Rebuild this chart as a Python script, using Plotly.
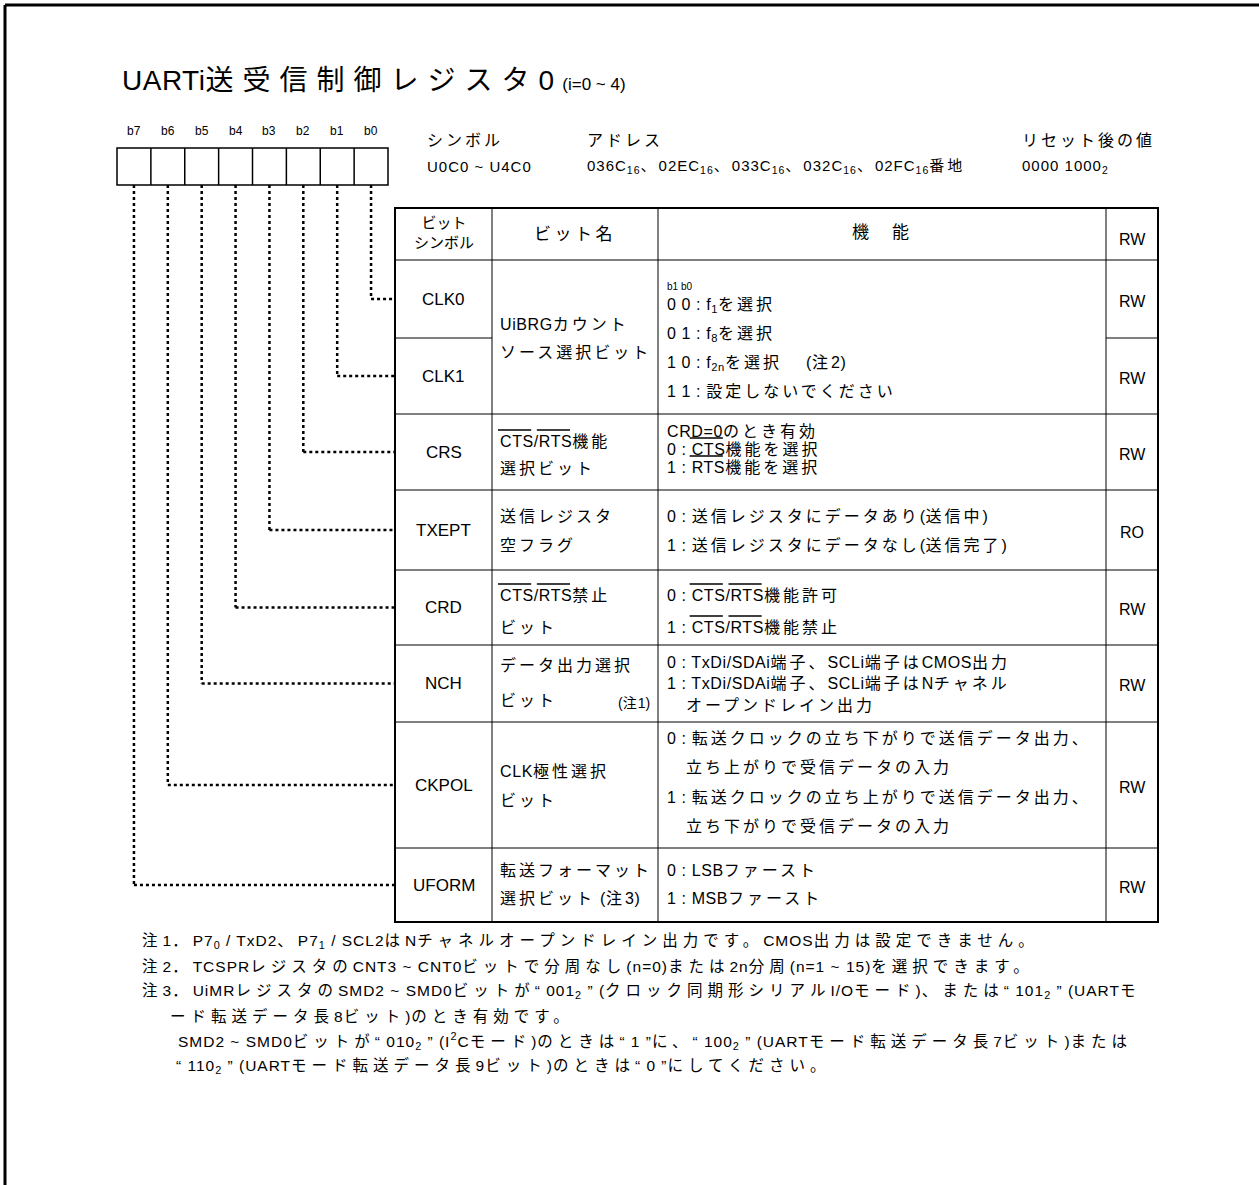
import re
import plotly.graph_objects as go

# ---------------- data ----------------
title_main = "UARTi送受信制御レジスタ0"
title_sub = "(i=0 ~ 4)"
bit_labels = ["b7", "b6", "b5", "b4", "b3", "b2", "b1", "b0"]
info_heads = ["シンボル", "アドレス", "リセット後の値"]
info_values = ["U0C0 ~ U4C0",
               "036C<sub>16</sub>、02EC<sub>16</sub>、033C<sub>16</sub>、032C<sub>16</sub>、02FC<sub>16</sub>番地",
               "0000 1000<sub>2</sub>"]
col_heads = ["ビット<br>シンボル", "ビット名", "機　能", "RW"]
symbols = ["CLK0", "CLK1", "CRS", "TXEPT", "CRD", "NCH", "CKPOL", "UFORM"]
access = ["RW", "RW", "RW", "RO", "RW", "RW", "RW", "RW"]
bit_names = [
    ["UiBRGカウント", "ソース選択ビット"],
    ["CTS/RTS機能", "選択ビット"],
    ["送信レジスタ", "空フラグ"],
    ["CTS/RTS禁止", "ビット"],
    ["データ出力選択", "ビット"],
    ["CLK極性選択", "ビット"],
    ["転送フォーマット", "選択ビット (注3)"],
]
name_notes = ["", "", "", "", "(注1)", "", ""]
functions = [
    ["0 0 : f<sub>1</sub>を選択", "0 1 : f<sub>8</sub>を選択",
     "1 0 : f<sub>2n</sub>を選択　 (注2)", "1 1 : 設定しないでください"],
    ["CRD=0のとき有効", "0 : CTS機能を選択", "1 : RTS機能を選択"],
    ["0 : 送信レジスタにデータあり(送信中)", "1 : 送信レジスタにデータなし(送信完了)"],
    ["0 : CTS/RTS機能許可", "1 : CTS/RTS機能禁止"],
    ["0 : TxDi/SDAi端子、SCLi端子はCMOS出力", "1 : TxDi/SDAi端子、SCLi端子はNチャネル",
     "　オープンドレイン出力"],
    ["0 : 転送クロックの立ち下がりで送信データ出力、", "　立ち上がりで受信データの入力",
     "1 : 転送クロックの立ち上がりで送信データ出力、", "　立ち下がりで受信データの入力"],
    ["0 : LSBファースト", "1 : MSBファースト"],
]
clk_bits_head = "b1 b0"
notes = [
    "注1．P7<sub>0</sub> / TxD2、P7<sub>1</sub> / SCL2はNチャネルオープンドレイン出力です。CMOS出力は設定できません。",
    "注2．TCSPRレジスタのCNT3 ~ CNT0ビットで分周なし(n=0)または2n分周(n=1 ~ 15)を選択できます。",
    "注3．UiMRレジスタのSMD2 ~ SMD0ビットが“ 001<sub>2</sub> ” (クロック同期形シリアルI/Oモード)、または“ 101<sub>2</sub> ” (UARTモ",
    "ード転送データ長8ビット)のとき有効です。",
    "SMD2 ~ SMD0ビットが“ 010<sub>2</sub> ” (I<sup>2</sup>Cモード)のときは“ 1 ”に、“ 100<sub>2</sub> ” (UARTモード転送データ長7ビット)または",
    "“ 110<sub>2</sub> ” (UARTモード転送データ長9ビット)のときは“ 0 ”にしてください。",
]
# overlined words: (group index, 'name' or function line index, substring, occurrence)
overlined = [
    (1, "name0", "CTS"), (1, "name0", "RTS"),
    (1, "func1", "CTS"), (1, "func2", "RTS"),
    (3, "name0", "CTS"), (3, "name0", "RTS"),
    (3, "func0", "CTS"), (3, "func0", "RTS"),
    (3, "func1", "CTS"), (3, "func1", "RTS"),
]

# ---------------- layout constants ----------------
W, H = 1259, 1185
FONT = "Liberation Sans, Arial, Noto Sans CJK JP, sans-serif"
box_x0, box_x1, box_y0, box_y1 = 117, 388, 148, 185
tab_x = [395, 492, 658, 1106, 1158]
tab_top = 208
row_edges = [260, 338, 414, 490, 570, 645, 722, 848, 922]
name_y = [[324, 352], [441, 468], [516, 545], [595, 627], [665, 700], [771, 800], [870, 898]]
func_y = [[305, 334, 363, 391], [431, 449, 467], [516, 545], [595, 627],
          [662, 683, 705], [738, 767, 797, 826], [870, 898]]
func_x = 665
name_x = 498
note_x = [140, 140, 140, 168, 176, 174]
note_y = [941, 966, 991, 1016, 1041, 1066]

TAB_SIZE, TAB_LS_CJK, TAB_LS_LAT = 16, 3.0, 0.6
NOTE_SIZE, NOTE_LS_CJK, NOTE_LS_LAT = 15.5, 5.0, 1.0

# Arial advance widths (per 1000 em) for measuring overline positions
AW = {' ': 278, ':': 278, '/': 278, '=': 584, '0': 556, '1': 556, 'C': 722, 'T': 611,
      'S': 667, 'R': 722, 'D': 722}


def is_cjk(ch):
    return ord(ch) >= 0x2E80


def stretch(s, ls_cjk, ls_lat):
    out = []
    for tok in re.split(r"(<[^>]+>)", s):
        if not tok:
            continue
        if tok.startswith("<"):
            out.append(tok)
            continue
        for run in re.findall(r"[\u2e80-\uffff]+|[^\u2e80-\uffff]+", tok):
            ls = ls_cjk if is_cjk(run[0]) else ls_lat
            out.append(f"<span style='letter-spacing:{ls}px'>{run}</span>")
    return "".join(out)


def width(s, size, ls_cjk, ls_lat):
    w = 0
    for ch in s:
        if is_cjk(ch):
            w += size + ls_cjk
        else:
            w += AW.get(ch, 556) / 1000 * size + ls_lat
    return w


fig = go.Figure()
shapes = []
ann = []


def text(x, y, s, size=16, xanchor="left", yanchor="middle", align="left"):
    ann.append(dict(x=x, y=y, text=s, showarrow=False, xanchor=xanchor, yanchor=yanchor,
                    align=align, font=dict(family=FONT, size=size, color="#000"),
                    xref="x", yref="y"))


def line(x0, y0, x1, y1, w=1, dash=None):
    d = dict(type="line", x0=x0, y0=y0, x1=x1, y1=y1, xref="x", yref="y",
             line=dict(color="#000", width=w))
    if dash:
        d["line"]["dash"] = dash
    shapes.append(d)


# page frame
line(5, 5, W + 10, 5, w=3)
line(5, 5, 5, H + 10, w=3)

# title
text(120, 80, stretch(title_main, 9, 0.5) + " " +
     f"<span style='font-size:17px'>{title_sub}</span>", size=28)

# bit boxes
bw = (box_x1 - box_x0) / len(bit_labels)
shapes.append(dict(type="rect", x0=box_x0, x1=box_x1, y0=box_y0, y1=box_y1,
                   xref="x", yref="y", line=dict(color="#000", width=1.5)))
for i, lab in enumerate(bit_labels):
    cx = box_x0 + bw * (i + 0.5)
    text(cx, 131, lab, size=12, xanchor="center")
    if i > 0:
        line(box_x0 + bw * i, box_y0, box_x0 + bw * i, box_y1, w=1.5)

# info header
for hx, h, v in zip([425, 585, 1020], info_heads, info_values):
    text(hx, 140, stretch(h, 3, 0.5), size=16)
    text(hx, 166, stretch(v, 3, 1.0), size=15)

# connectors (b0 -> row 0, b1 -> row 1, ...)
for j in range(8):
    cx = box_x1 - bw * (j + 0.5)
    ry = (row_edges[j] + row_edges[j + 1]) / 2
    line(cx, box_y1, cx, ry, w=2.5, dash="dot")
    line(cx, ry, tab_x[0], ry, w=2.5, dash="dot")

# table grid
for x in tab_x[1:-1]:
    line(x, tab_top, x, row_edges[-1], w=1)
line(tab_x[0], row_edges[0], tab_x[-1], row_edges[0], w=1)
for k in range(1, len(row_edges) - 1):
    y = row_edges[k]
    if k == 1:
        line(tab_x[0], y, tab_x[1], y, w=1)
        line(tab_x[3], y, tab_x[4], y, w=1)
    else:
        line(tab_x[0], y, tab_x[-1], y, w=1)
shapes.append(dict(type="rect", x0=tab_x[0], x1=tab_x[-1], y0=tab_top, y1=row_edges[-1],
                   xref="x", yref="y", line=dict(color="#000", width=2)))

# header row
hy = (tab_top + row_edges[0]) / 2
text((tab_x[0] + tab_x[1]) / 2, hy - 2, col_heads[0], size=15, xanchor="center", align="center")
text((tab_x[1] + tab_x[2]) / 2, hy, stretch(col_heads[1], 3.5, 0), size=17, xanchor="center")
text((tab_x[2] + tab_x[3]) / 2, hy - 2, stretch(col_heads[2], 3, 0), size=17, xanchor="center")
text((tab_x[3] + tab_x[4]) / 2, hy + 5, col_heads[3], size=16, xanchor="center")

# symbol and access cells
for j in range(8):
    ry = (row_edges[j] + row_edges[j + 1]) / 2
    text((tab_x[0] + tab_x[1]) / 2, ry, symbols[j], size=17, xanchor="center")
    text((tab_x[3] + tab_x[4]) / 2, ry + 2, access[j], size=16, xanchor="center")

# bit names, functions
for g in range(len(bit_names)):
    for s, y in zip(bit_names[g], name_y[g]):
        text(name_x, y, stretch(s, TAB_LS_CJK, TAB_LS_LAT), size=TAB_SIZE)
    if name_notes[g]:
        text(tab_x[2] - 6, name_y[g][-1] + 3, stretch(name_notes[g], 1, 0), size=14, xanchor="right")
    for s, y in zip(functions[g], func_y[g]):
        text(func_x, y, stretch(s, TAB_LS_CJK, TAB_LS_LAT), size=TAB_SIZE)
text(func_x, 286, clk_bits_head, size=10)

# overlines (measured from the text they sit on)
for g, where, word in overlined:
    if where.startswith("name"):
        k = int(where[4:])
        s, x0, y = bit_names[g][k], name_x, name_y[g][k]
    else:
        k = int(where[4:])
        s, x0, y = functions[g][k], func_x, func_y[g][k]
    idx = s.index(word)
    xs = x0 + width(s[:idx], TAB_SIZE, TAB_LS_CJK, TAB_LS_LAT)
    xe = xs + width(word, TAB_SIZE, TAB_LS_CJK, TAB_LS_LAT) - TAB_LS_LAT
    line(xs, y - 11, xe, y - 11, w=1.5)

# notes
for x, y, s in zip(note_x, note_y, notes):
    text(x, y, stretch(s, NOTE_LS_CJK, NOTE_LS_LAT), size=NOTE_SIZE)

fig.update_layout(
    width=W, height=H, margin=dict(l=0, r=0, t=0, b=0),
    paper_bgcolor="white", plot_bgcolor="white",
    xaxis=dict(range=[0, W], visible=False, fixedrange=True),
    yaxis=dict(range=[H, 0], visible=False, fixedrange=True),
    shapes=shapes, annotations=ann, showlegend=False,
)
fig.write_html("out.html", config={"displayModeBar": False},
               post_script="document.body.style.margin='0';document.body.style.overflow='hidden';")
